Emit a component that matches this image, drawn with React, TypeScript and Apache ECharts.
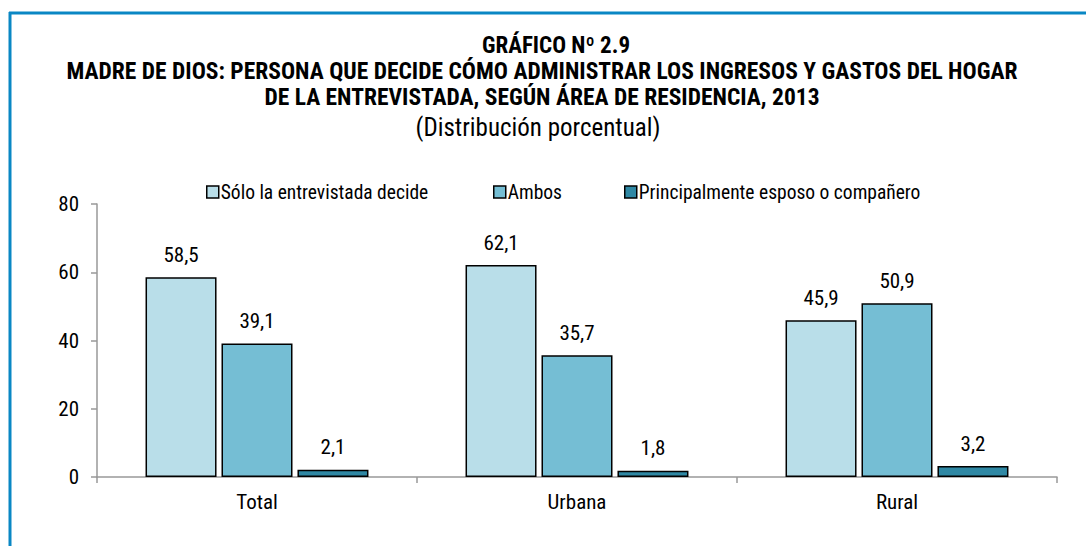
import React, { useEffect, useRef } from "react";
import * as echarts from "echarts";

const categories = ["Total", "Urbana", "Rural"];
const seriesNames = ["Sólo la entrevistada decide", "Ambos", "Principalmente esposo o compañero"];
const soloValues = [58.5, 62.1, 45.9];
const ambosValues = [39.1, 35.7, 50.9];
const esposoValues = [2.1, 1.8, 3.2];
const colors = ["#b9dee9", "#75bed4", "#2f88a4"];
const titleHead = "GRÁFICO Nº 2.9";
const titleBody = [
  "MADRE DE DIOS: PERSONA QUE DECIDE CÓMO ADMINISTRAR LOS INGRESOS Y GASTOS DEL HOGAR",
  "DE LA ENTREVISTADA, SEGÚN ÁREA DE RESIDENCIA, 2013",
];
const subtitle = "(Distribución porcentual)";

const FONT = "'Liberation Sans Narrow', 'Arial Narrow', 'Roboto Condensed', 'Liberation Sans', sans-serif";

export default function App() {
  const ref = useRef<HTMLDivElement>(null);
  useEffect(() => {
    if (!ref.current) return;
    const chart = echarts.init(ref.current, null, { renderer: "svg" });
    const data = [soloValues, ambosValues, esposoValues];
    const legendLeft = [206, 493, 624];
    const bodyY = [71, 97];
    chart.setOption({
      animation: false,
      backgroundColor: "#ffffff",
      textStyle: { fontFamily: FONT },
      graphic: [
        { type: "line", shape: { x1: 9, y1: 13, x2: 1086, y2: 13 }, style: { stroke: "#0a87c4", lineWidth: 3 } },
        { type: "line", shape: { x1: 10, y1: 12, x2: 10, y2: 546 }, style: { stroke: "#0a87c4", lineWidth: 3 } },
        {
          type: "text",
          x: 556,
          y: 45,
          style: {
            text: titleHead,
            fontFamily: FONT,
            fontSize: 23,
            lineHeight: 23,
            fontWeight: "bold",
            fill: "#000",
            align: "center",
            verticalAlign: "middle",
          },
        },
        ...titleBody.map((t, i) => ({
          type: "text",
          x: 542,
          y: bodyY[i],
          style: {
            text: t,
            fontFamily: FONT,
            fontSize: 23.5,
            lineHeight: 23,
            fontWeight: "bold",
            fill: "#000",
            align: "center",
            verticalAlign: "middle",
          },
        })),
        {
          type: "text",
          x: 538,
          y: 127,
          style: {
            text: subtitle,
            fontFamily: FONT,
            fontSize: 25,
            lineHeight: 24,
            fill: "#000",
            align: "center",
            verticalAlign: "middle",
          },
        },
      ],
      legend: seriesNames.map((name, i) => ({
        top: 182,
        left: legendLeft[i],
        padding: 0,
        itemWidth: 12,
        itemHeight: 12,
        icon: "rect",
        textStyle: { fontFamily: FONT, fontSize: 19.5, color: "#000", padding: [0, 0, 0, -3] },
        itemStyle: { borderColor: "#000", borderWidth: 1.5 },
        data: [name],
      })),
      grid: { left: 97, right: 29, top: 204, bottom: 69, containLabel: false },
      xAxis: {
        type: "category",
        data: categories,
        axisLine: { lineStyle: { color: "#999", width: 1.5 } },
        axisTick: { show: true, length: 6, lineStyle: { color: "#999", width: 1.5 } },
        axisLabel: { fontFamily: FONT, fontSize: 21, color: "#000", margin: 14 },
      },
      yAxis: {
        type: "value",
        min: 0,
        max: 80,
        interval: 20,
        splitLine: { show: false },
        axisLine: { show: true, lineStyle: { color: "#999", width: 1.5 } },
        axisTick: { show: true, length: 6, lineStyle: { color: "#999", width: 1.5 } },
        axisLabel: { fontFamily: FONT, fontSize: 21, color: "#000", margin: 18 },
      },
      series: seriesNames.map((name, i) => ({
        name,
        type: "bar",
        data: data[i],
        barWidth: 71,
        barGap: "7%",
        itemStyle: { color: colors[i], borderColor: "#000", borderWidth: 1.5 },
        label: {
          show: true,
          position: "top",
          distance: 12,
          fontFamily: FONT,
          fontSize: 21,
          color: "#000",
          formatter: (p: any) => String(p.value.toFixed(1)).replace(".", ","),
        },
      })),
    });
    return () => chart.dispose();
  }, []);
  return <div ref={ref} style={{ position: "absolute", left: 0, top: 0, width: 1086, height: 546 }} />;
}
